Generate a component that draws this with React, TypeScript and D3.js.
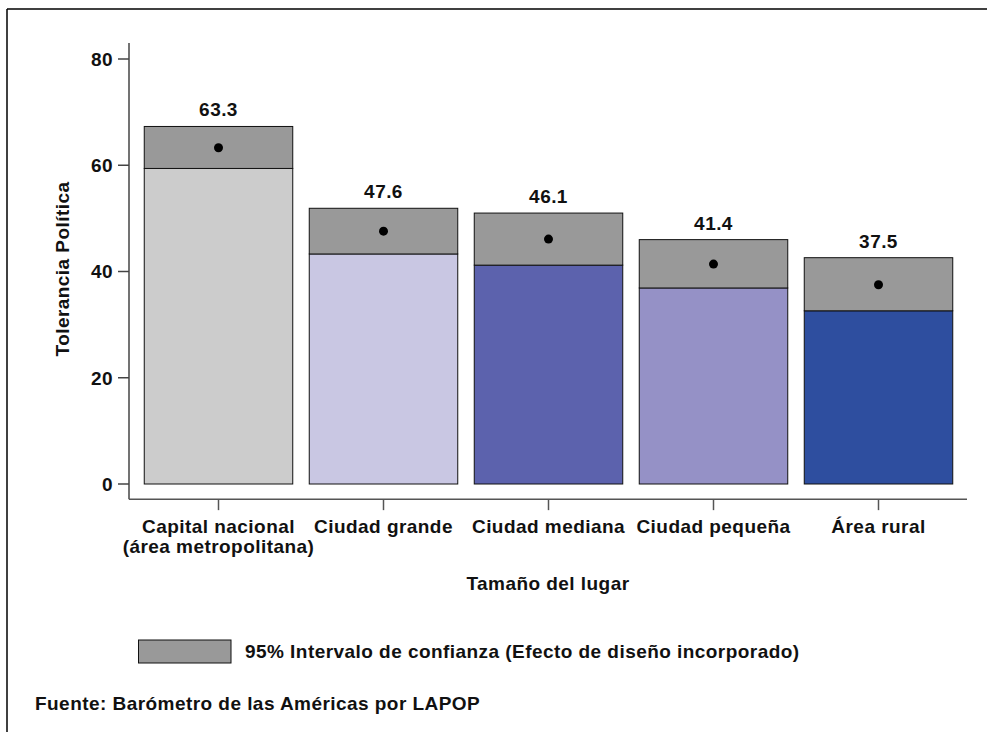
import React from "react";
import * as d3 from "d3";

const categories = ["Capital nacional|(área metropolitana)", "Ciudad grande", "Ciudad mediana", "Ciudad pequeña", "Área rural"];
const means = [63.3, 47.6, 46.1, 41.4, 37.5];
const lowerCI = [59.4, 43.3, 41.2, 36.9, 32.6];
const upperCI = [67.3, 51.9, 51.0, 46.0, 42.6];
const barColors = ["#cccccc", "#c9c7e3", "#5c62ad", "#9591c6", "#2e4e9f"];
const yTicks = [0, 20, 40, 60, 80];

const FONT = "'Liberation Sans', Arial, Helvetica, sans-serif";

export default function App() {
  const W = 987, H = 732;
  const x = d3.scaleBand<number>().domain(d3.range(categories.length)).range([136, 961]).paddingInner(0.1).paddingOuter(0.05);
  const y = d3.scaleLinear().domain([0, 80]).range([484, 59]);
  const axisX = 129;
  const axisY = y(-2.85);
  const fs = 19;
  const ls = 0.45;
  return (
    <div style={{ position: "absolute", left: 0, top: 0 }}>
      <svg width={W} height={H} style={{ display: "block", fontFamily: FONT, letterSpacing: `${ls}px` }}>
        <rect x={0} y={0} width={W} height={H} fill="#fff" />
        {/* frame */}
        <line x1={7} y1={9} x2={W} y2={9} stroke="#000" strokeWidth={1.5} />
        <line x1={7} y1={9} x2={7} y2={H} stroke="#000" strokeWidth={1.5} />

        {/* bars */}
        {means.map((m, i) => {
          const bx = x(i)!;
          const bw = x.bandwidth();
          return (
            <g key={i}>
              <rect x={bx} y={y(lowerCI[i])} width={bw} height={y(0) - y(lowerCI[i])} fill={barColors[i]} stroke="#111" strokeWidth={1} />
              <rect x={bx} y={y(upperCI[i])} width={bw} height={y(lowerCI[i]) - y(upperCI[i])} fill="#999999" stroke="#111" strokeWidth={1} />
              <circle cx={bx + bw / 2} cy={y(m)} r={4.5} fill="#000" />
              <text x={bx + bw / 2} y={y(upperCI[i]) - 10} textAnchor="middle" fontSize={fs} fontWeight="bold" fill="#111">{m.toFixed(1)}</text>
            </g>
          );
        })}

        {/* y axis */}
        <line x1={axisX} y1={y(83)} x2={axisX} y2={axisY} stroke="#444" strokeWidth={1.5} />
        {yTicks.map((t) => (
          <g key={t}>
            <line x1={axisX - 11} x2={axisX} y1={y(t)} y2={y(t)} stroke="#444" strokeWidth={1.5} />
            <text x={113} y={y(t)} dy="0.36em" textAnchor="end" fontSize={fs} fontWeight="bold" fill="#111">{t}</text>
          </g>
        ))}
        <text transform={`translate(69,269) rotate(-90)`} textAnchor="middle" fontSize={fs} fontWeight="bold" fill="#111">Tolerancia Política</text>

        {/* x axis */}
        <line x1={axisX} x2={967} y1={axisY} y2={axisY} stroke="#555" strokeWidth={1.5} />
        {categories.map((c, i) => {
          const cx = x(i)! + x.bandwidth() / 2;
          const lines = c.split("|");
          return (
            <g key={i}>
              <line x1={cx} x2={cx} y1={axisY} y2={axisY + 11} stroke="#555" strokeWidth={1.5} />
              {lines.map((l, j) => (
                <text key={j} x={cx} y={533 + j * 19.5} textAnchor="middle" fontSize={fs} fontWeight="bold" fill="#111">{l}</text>
              ))}
            </g>
          );
        })}
        <text x={548} y={590} textAnchor="middle" fontSize={fs} fontWeight="bold" fill="#111">Tamaño del lugar</text>

        {/* legend */}
        <rect x={138.5} y={640} width={92.5} height={23} fill="#999999" stroke="#111" strokeWidth={1} />
        <text x={245} y={657.5} fontSize={fs} fontWeight="bold" fill="#111">95% Intervalo de confianza (Efecto de diseño incorporado)</text>

        <text x={35} y={710} fontSize={fs} fontWeight="bold" fill="#111">Fuente: Barómetro de las Américas por LAPOP</text>
      </svg>
    </div>
  );
}
